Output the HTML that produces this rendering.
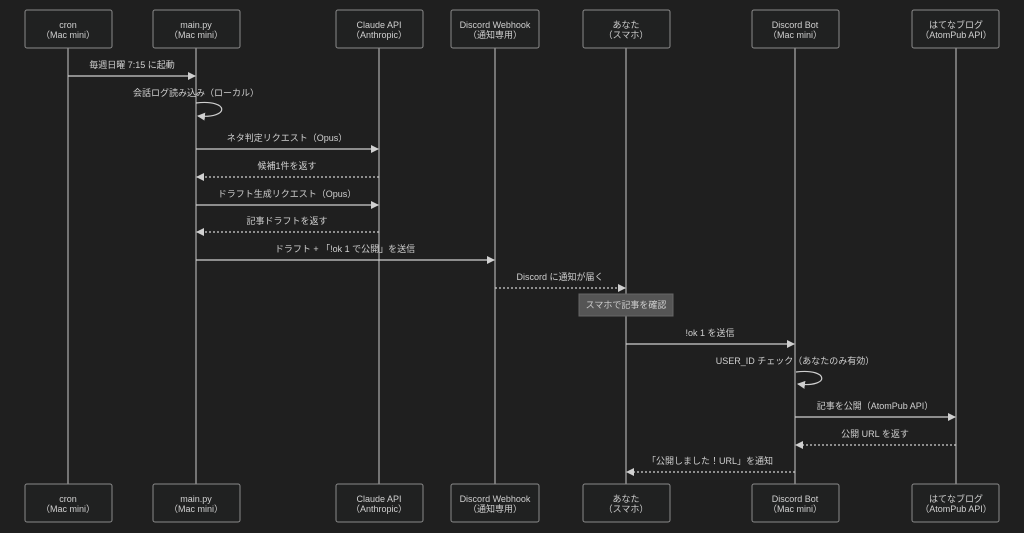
<!DOCTYPE html>
<html><head><meta charset="utf-8"><style>
html,body{margin:0;padding:0;background:#1f1f1f;}
svg{display:block}
text{font-family:"Liberation Sans","Noto Sans CJK JP",sans-serif;font-size:9px;fill:#d0d0d0;text-anchor:middle}
.b{fill:#202121;stroke:#8a8a8a;stroke-width:1}
.l{stroke:#c8c8c8;stroke-width:1;fill:none}
.m{stroke:#cfcfcf;stroke-width:1.2;fill:none}
.d{stroke:#cfcfcf;stroke-width:1.2;fill:none;stroke-dasharray:2,2}
</style></head><body>
<svg width="1024" height="533" viewBox="0 0 1024 533" xmlns="http://www.w3.org/2000/svg">
<defs><marker id="a" markerWidth="8" markerHeight="8" refX="7" refY="4" orient="auto" markerUnits="userSpaceOnUse"><path d="M0,0 L8,4 L0,8 z" fill="#d0d0d0"/></marker></defs>
<rect width="1024" height="533" fill="#1f1f1f"/>
<g class="l">
<line x1="68" y1="48" x2="68" y2="484"/><line x1="196" y1="48" x2="196" y2="484"/>
<line x1="379" y1="48" x2="379" y2="484"/><line x1="495" y1="48" x2="495" y2="484"/>
<line x1="626" y1="48" x2="626" y2="484"/><line x1="795" y1="48" x2="795" y2="484"/>
<line x1="956" y1="48" x2="956" y2="484"/>
</g>
<g>
<rect class="b" x="25" y="10" width="87" height="38" rx="2"/><text x="68" y="28">cron</text><text x="68" y="38">（Mac mini）</text>
<rect class="b" x="153" y="10" width="87" height="38" rx="2"/><text x="196" y="28">main.py</text><text x="196" y="38">（Mac mini）</text>
<rect class="b" x="336" y="10" width="87" height="38" rx="2"/><text x="379" y="28">Claude API</text><text x="379" y="38">（Anthropic）</text>
<rect class="b" x="451" y="10" width="88" height="38" rx="2"/><text x="495" y="28">Discord Webhook</text><text x="495" y="38">（通知専用）</text>
<rect class="b" x="583" y="10" width="87" height="38" rx="2"/><text x="626" y="28">あなた</text><text x="626" y="38">（スマホ）</text>
<rect class="b" x="752" y="10" width="87" height="38" rx="2"/><text x="795" y="28">Discord Bot</text><text x="795" y="38">（Mac mini）</text>
<rect class="b" x="912" y="10" width="87" height="38" rx="2"/><text x="956" y="28">はてなブログ</text><text x="956" y="38">（AtomPub API）</text>

<rect class="b" x="25" y="484" width="87" height="38" rx="2"/><text x="68" y="502">cron</text><text x="68" y="512">（Mac mini）</text>
<rect class="b" x="153" y="484" width="87" height="38" rx="2"/><text x="196" y="502">main.py</text><text x="196" y="512">（Mac mini）</text>
<rect class="b" x="336" y="484" width="87" height="38" rx="2"/><text x="379" y="502">Claude API</text><text x="379" y="512">（Anthropic）</text>
<rect class="b" x="451" y="484" width="88" height="38" rx="2"/><text x="495" y="502">Discord Webhook</text><text x="495" y="512">（通知専用）</text>
<rect class="b" x="583" y="484" width="87" height="38" rx="2"/><text x="626" y="502">あなた</text><text x="626" y="512">（スマホ）</text>
<rect class="b" x="752" y="484" width="87" height="38" rx="2"/><text x="795" y="502">Discord Bot</text><text x="795" y="512">（Mac mini）</text>
<rect class="b" x="912" y="484" width="87" height="38" rx="2"/><text x="956" y="502">はてなブログ</text><text x="956" y="512">（AtomPub API）</text>
</g>

<text x="132" y="68">毎週日曜 7:15 に起動</text>
<line class="m" x1="68" y1="76" x2="195" y2="76" marker-end="url(#a)"/>
<text x="196" y="96">会話ログ読み込み（ローカル）</text>
<path class="m" d="M196,103 C230,99 230,119 198,116" marker-end="url(#a)"/>
<text x="287" y="141">ネタ判定リクエスト（Opus）</text>
<line class="m" x1="196" y1="149" x2="378" y2="149" marker-end="url(#a)"/>
<text x="287" y="169">候補1件を返す</text>
<line class="d" x1="379" y1="177" x2="197" y2="177" marker-end="url(#a)"/>
<text x="287" y="197">ドラフト生成リクエスト（Opus）</text>
<line class="m" x1="196" y1="205" x2="378" y2="205" marker-end="url(#a)"/>
<text x="287" y="224">記事ドラフトを返す</text>
<line class="d" x1="379" y1="232" x2="197" y2="232" marker-end="url(#a)"/>
<text x="345" y="252">ドラフト + 「!ok 1 で公開」を送信</text>
<line class="m" x1="196" y1="260" x2="494" y2="260" marker-end="url(#a)"/>
<text x="560" y="280">Discord に通知が届く</text>
<line class="d" x1="495" y1="288" x2="625" y2="288" marker-end="url(#a)"/>
<rect x="579" y="294" width="94" height="22" fill="#555" stroke="#666"/>
<text x="626" y="308">スマホで記事を確認</text>
<text x="710" y="336">!ok 1 を送信</text>
<line class="m" x1="626" y1="344" x2="794" y2="344" marker-end="url(#a)"/>
<text x="795" y="364">USER_ID チェック（あなたのみ有効）</text>
<path class="m" d="M796,372 C830,368 830,388 798,384" marker-end="url(#a)"/>
<text x="875" y="409">記事を公開（AtomPub API）</text>
<line class="m" x1="795" y1="417" x2="955" y2="417" marker-end="url(#a)"/>
<text x="875" y="437">公開 URL を返す</text>
<line class="d" x1="956" y1="445" x2="796" y2="445" marker-end="url(#a)"/>
<text x="710" y="464">「公開しました！URL」を通知</text>
<line class="d" x1="795" y1="472" x2="627" y2="472" marker-end="url(#a)"/>
</svg>
</body></html>
